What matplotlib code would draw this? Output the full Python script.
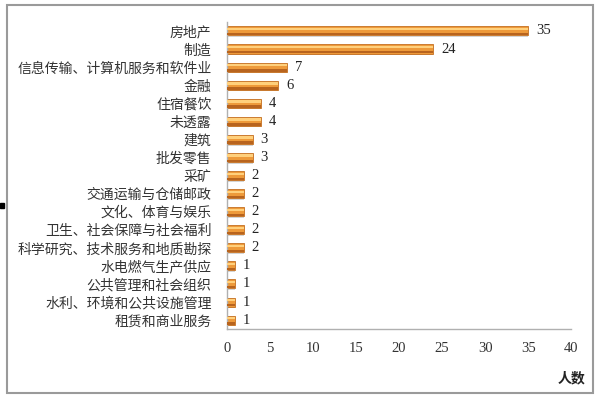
import numpy as np
import matplotlib.pyplot as plt
from matplotlib.patches import Rectangle

plt.rcParams['font.family'] = ['Noto Sans CJK SC', 'DejaVu Sans']

industries = ['房地产', '制造', '信息传输、计算机服务和软件业', '金融', '住宿餐饮',
              '未透露', '建筑', '批发零售', '采矿', '交通运输与仓储邮政',
              '文化、体育与娱乐', '卫生、社会保障与社会福利',
              '科学研究、技术服务和地质勘探', '水电燃气生产供应',
              '公共管理和社会组织', '水利、环境和公共设施管理', '租赁和商业服务']
counts = [35, 24, 7, 6, 4, 4, 3, 3, 2, 2, 2, 2, 2, 1, 1, 1, 1]
xticks = [0, 5, 10, 15, 20, 25, 30, 35, 40]

fig = plt.figure(figsize=(6, 3.98), dpi=100)
ax = fig.add_axes([0.378, 0.173, 0.574, 0.772])

y = np.arange(len(industries))
# soft grey shadow under the bars
ax.barh(y + 0.3, counts, height=0.08, color='#D4D4D4', linewidth=0, zorder=1)
ax.barh(y, counts, height=0.5, color='#EE9A3A', edgecolor='#C46F20', linewidth=0.6, zorder=2)
# light highlight near the top of each bar
ax.barh(y - 0.1, counts, height=0.13, color='#FFD07C', linewidth=0, zorder=3)
# darker shade along the bottom
ax.barh(y + 0.18, counts, height=0.13, color='#B8641E', linewidth=0, zorder=3)

for yi, c in zip(y, counts):
    ax.text(c + 0.9, yi, str(c), va='center', ha='left', fontsize=10.5,
            family=['Liberation Serif', 'DejaVu Serif'], color='#222222')

ax.set_xlim(0, 40)
ax.set_ylim(len(industries) - 0.5, -0.5)
ax.set_yticks(y)
ax.set_yticklabels(industries, fontsize=10, color='#333333')
ax.set_xticks(xticks)
ax.set_xticklabels([str(t) for t in xticks], fontsize=10.5,
                   family=['Liberation Serif', 'DejaVu Serif'], color='#333333')
ax.tick_params(axis='both', length=0)
ax.tick_params(axis='y', pad=11)
ax.tick_params(axis='x', pad=9)
for s in ['top', 'right']:
    ax.spines[s].set_visible(False)
for s in ['left', 'bottom']:
    ax.spines[s].set_color('#B0B0B0')
    ax.spines[s].set_linewidth(1.0)

fig.text(0.953, 0.05, '人数', ha='center', va='center', fontsize=10,
         fontweight='bold', color='#222222')

# outer chart frame
fig.patches.append(Rectangle((7 / 600, 5 / 398), 586 / 600, 388 / 398,
                             transform=fig.transFigure, fill=False,
                             edgecolor='#9A9A9A', linewidth=1.5))
fig.patches.append(Rectangle((0 / 600, 190 / 398), 4 / 600, 5 / 398,
                             transform=fig.transFigure, color='black'))

fig.savefig('out.png', dpi=100)
